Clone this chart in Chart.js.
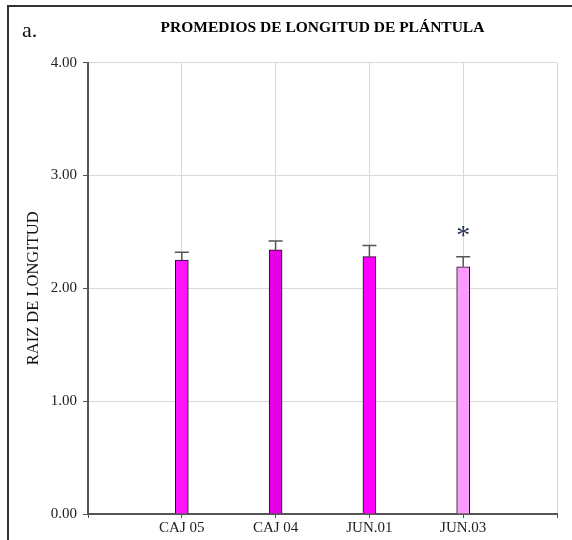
<!DOCTYPE html>
<html>
<head>
<meta charset="utf-8">
<script src="https://cdn.jsdelivr.net/npm/chart.js@4.4.1/dist/chart.umd.min.js"></script>
<style>
  html, body { margin: 0; padding: 0; background: #fff; }
  #wrap { width: 572px; height: 540px; position: relative; }
</style>
</head>
<body>
<div id="wrap"><canvas id="c" width="572" height="540"></canvas></div>
<script>
// Seedling root length means per accession (empty slots pad both ends of the axis)
const categories = ['', 'CAJ 05', 'CAJ 04', 'JUN.01', 'JUN.03', ''];
const means      = [null, 2.25, 2.34, 2.28, 2.19, null];
const errors     = [null, 0.07, 0.08, 0.10, 0.09, null];
const marks      = ['', '', '', '', '*', ''];
const barColors  = ['#ff00ff', '#ff14ff', '#e600e6', '#ff00ff', '#ff99ff', '#ff00ff'];
const yTicks     = [0, 1, 2, 3, 4];

const SERIF = '"Liberation Serif", "Times New Roman", serif';

// Upward-only error bars with a horizontal cap
const errorBarPlugin = {
  id: 'errorBars',
  afterDatasetsDraw(chart) {
    const { ctx, scales: { x, y } } = chart;
    ctx.save();
    ctx.strokeStyle = '#555';
    ctx.lineWidth = 1.5;
    means.forEach((m, i) => {
      if (m == null) return;
      const px = x.getPixelForValue(i);
      const y0 = y.getPixelForValue(m);
      const y1 = y.getPixelForValue(m + errors[i]);
      ctx.beginPath();
      ctx.moveTo(px, y0);
      ctx.lineTo(px, y1);
      ctx.moveTo(px - 7, y1);
      ctx.lineTo(px + 7, y1);
      ctx.stroke();
    });
    ctx.restore();
  }
};

// Significance markers above the error bars
const markPlugin = {
  id: 'marks',
  afterDatasetsDraw(chart) {
    const { ctx, scales: { x, y } } = chart;
    ctx.save();
    ctx.fillStyle = '#1f2f4f';
    ctx.font = '28px ' + SERIF;
    ctx.textAlign = 'center';
    ctx.textBaseline = 'alphabetic';
    marks.forEach((t, i) => {
      if (!t) return;
      const px = x.getPixelForValue(i);
      const top = y.getPixelForValue(means[i] + errors[i]);
      ctx.fillText(t, px, top - 13);
    });
    ctx.restore();
  }
};

// Panel frame and panel letter
const framePlugin = {
  id: 'frame',
  afterDraw(chart) {
    const { ctx } = chart;
    ctx.save();
    ctx.strokeStyle = '#333';
    ctx.lineWidth = 2;
    ctx.beginPath();
    ctx.moveTo(8, 540);
    ctx.lineTo(8, 6);
    ctx.lineTo(572, 6);
    ctx.stroke();
    ctx.fillStyle = '#111';
    ctx.font = '22px ' + SERIF;
    ctx.textAlign = 'left';
    ctx.textBaseline = 'alphabetic';
    ctx.fillText('a.', 22, 37);
    ctx.restore();
  }
};

new Chart(document.getElementById('c'), {
  type: 'bar',
  data: {
    labels: categories,
    datasets: [{
      data: means,
      backgroundColor: barColors,
      borderColor: '#111',
      borderWidth: 1,
      borderSkipped: 'bottom',
      barThickness: 13
    }]
  },
  options: {
    responsive: false,
    animation: false,
    devicePixelRatio: 1,
    layout: { padding: { left: 0, right: 15, top: 0, bottom: 2 } },
    plugins: {
      legend: { display: false },
      tooltip: { enabled: false },
      title: {
        display: true,
        text: 'PROMEDIOS DE LONGITUD DE PLÁNTULA',
        color: '#000',
        fullSize: false,
        font: { family: SERIF, size: 15.5, weight: 'bold' },
        padding: { top: 19, bottom: 25 }
      }
    },
    scales: {
      x: {
        type: 'category',
        offset: false,
        grid: { offset: false, color: '#d9d9d9', lineWidth: 1, tickColor: '#555', tickLength: 4 },
        border: { color: '#555', width: 2 },
        ticks: {
          color: '#222',
          font: { family: SERIF, size: 15 },
          padding: 1,
          maxRotation: 0,
          autoSkip: false
        }
      },
      y: {
        min: 0,
        max: 4,
        afterBuildTicks(scale) { scale.ticks = yTicks.map(v => ({ value: v })); },
        afterFit(scale) { scale.width = 88; },
        grid: { color: '#d9d9d9', lineWidth: 1, tickColor: '#555', tickLength: 5 },
        border: { color: '#555', width: 2 },
        ticks: {
          color: '#222',
          font: { family: SERIF, size: 15 },
          padding: 6,
          callback: v => v.toFixed(2)
        },
        title: {
          display: true,
          text: 'RAIZ DE LONGITUD',
          color: '#111',
          font: { family: SERIF, size: 16.5 },
          padding: { top: 24, bottom: 0 }
        }
      }
    }
  },
  plugins: [errorBarPlugin, markPlugin, framePlugin]
});
</script>
</body>
</html>
